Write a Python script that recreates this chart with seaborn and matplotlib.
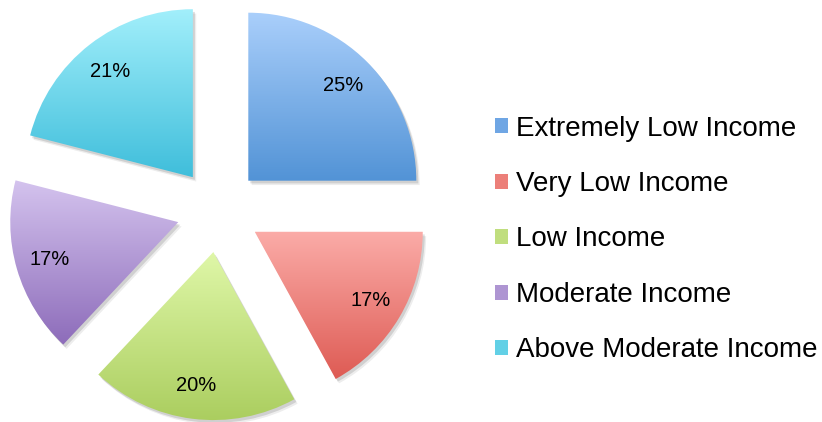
import numpy as np
import matplotlib
matplotlib.use("Agg")
import matplotlib.pyplot as plt
import matplotlib.colors as mcolors
from matplotlib.patches import Patch, Wedge
import seaborn as sns

categories = ["Extremely Low Income", "Very Low Income", "Low Income",
              "Moderate Income", "Above Moderate Income"]
values = [25, 17, 20, 17, 21]
top_colors = ["#aacffb", "#fbaca8", "#dff7a8", "#d4c3ee", "#a2effb"]
bottom_colors = ["#5293d6", "#de5b54", "#aacd5e", "#8d6cba", "#3fbedb"]
legend_colors = ["#6fa6e4", "#ec7f79", "#c0de7e", "#ae95d2", "#62d0e6"]

sns.set_style("white")
plt.rcParams["font.family"] = ["Liberation Sans", "DejaVu Sans"]
plt.rcParams["text.color"] = "black"

W, H = 822, 422
fig = plt.figure(figsize=(W / 100, H / 100), dpi=100)
ax = fig.add_axes([0, 0, 1, 1])

cx, cy, R = 218.6, 210.4, 168.0  # pixel geometry of the pie

wedges, texts, autotexts = ax.pie(
    values, startangle=90, counterclock=False, explode=[0.25] * len(values),
    autopct="%1.0f%%", pctdistance=0.8, radius=1.0,
    textprops=dict(fontsize=14.5, color="black"),
    wedgeprops=dict(linewidth=0),
)

for w, ct, cb in zip(wedges, top_colors, bottom_colors):
    # soft drop shadow
    for ox, oy, a in [(0.02, -0.026, 0.07), (0.012, -0.016, 0.12)]:
        sh = Wedge((w.center[0] + ox, w.center[1] + oy), w.r, w.theta1, w.theta2,
                   facecolor="black", edgecolor="none", alpha=a, zorder=0.5)
        ax.add_patch(sh)
    verts = w.get_path().vertices
    x0, x1 = verts[:, 0].min(), verts[:, 0].max()
    y0, y1 = verts[:, 1].min(), verts[:, 1].max()
    c1 = np.array(mcolors.to_rgb(ct))
    c2 = np.array(mcolors.to_rgb(cb))
    t = np.linspace(0, 1, 256)[:, None]
    grad = (c1 * (1 - t) + c2 * t)[:, None, :]
    w.set_facecolor("none")
    w.set_edgecolor("none")
    im = ax.imshow(grad, extent=(x0, x1, y0, y1), origin="upper",
                   aspect="auto", interpolation="bilinear", zorder=1)
    im.set_clip_path(w)

for t in autotexts:
    t.set_zorder(3)
    t.set_color("black")

ax.set_xlim(-cx / R, (W - cx) / R)
ax.set_ylim(-(H - cy) / R, cy / R)
ax.set_axis_off()

handles = [Patch(facecolor=c, edgecolor="none") for c in legend_colors]
fig.legend(handles, categories, loc="center left",
           bbox_to_anchor=(495 / W, 1 - 239.5 / H), frameon=False,
           fontsize=20, labelspacing=1.06, handlelength=0.45,
           handleheight=0.45, handletextpad=0.3, borderpad=0,
           borderaxespad=0, labelcolor="black")

fig.savefig("out.png", dpi=100)
